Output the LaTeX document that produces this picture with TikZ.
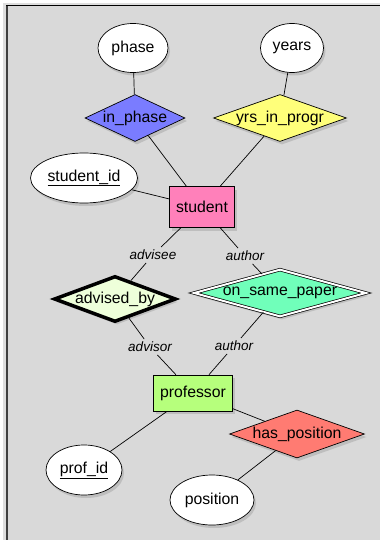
\documentclass[tikz,border=0pt]{standalone}
\usepackage{fontspec}
\setmainfont{Liberation Sans}
\usetikzlibrary{shapes.geometric,shadows}
\definecolor{panel}{HTML}{D9D9D9}
\definecolor{cblue}{HTML}{7A7CFF}
\definecolor{cyellow}{HTML}{FFFF7A}
\definecolor{cpink}{HTML}{FF80BA}
\definecolor{cpale}{HTML}{EEFFDA}
\definecolor{cmint}{HTML}{70FFBA}
\definecolor{clime}{HTML}{B6FF7C}
\definecolor{csalmon}{HTML}{FF7B72}
\tikzset{
  shade/.style={drop shadow={opacity=0.3,shadow xshift=2pt,shadow yshift=-3pt}},
  attr/.style={ellipse,draw=black,line width=0.7pt,fill=white,inner sep=0pt,
    font=\fontsize{15.8}{18}\selectfont,shade},
  entity/.style={rectangle,draw=black,line width=0.7pt,inner sep=0pt,
    font=\fontsize{15.8}{18}\selectfont,shade},
  rel/.style={diamond,draw=black,line width=0.7pt,inner sep=0pt,
    font=\fontsize{15.8}{18}\selectfont,shade},
  role/.style={font=\itshape\fontsize{13.5}{16}\selectfont,inner sep=3pt,outer sep=0pt},
  link/.style={draw=black,line width=0.7pt}
}
\begin{document}
\begin{tikzpicture}[x=1pt,y=-1pt]
  \useasboundingbox (0,0) rectangle (380,540);
  % window panel
  \fill[white] (0,0) rectangle (380,540);
  \fill[black!25,opacity=0.5] (3,3) rectangle (380,540);
  \fill[panel] (7,6) rectangle (380,540);
  \draw[black!75,line width=2pt] (7,5.5) -- (7,540);
  \draw[black,line width=1pt] (6,5.5) -- (380,5.5);

  % attributes
  \node[attr,minimum width=70pt,minimum height=49pt] (phase) at (133,48) {phase};
  \node[attr,minimum width=63pt,minimum height=49pt] (years) at (292,48) {years};
  \node[attr,minimum width=107pt,minimum height=50pt] (sid) at (84,178) {\underline{student\_id}};
  \node[attr,minimum width=76pt,minimum height=50pt] (pid) at (84,470) {\underline{prof\_id}};
  \node[attr,minimum width=84pt,minimum height=50pt] (pos) at (212,500) {position};

  % relationships
  \node[rel,fill=cblue,aspect=2.13,minimum width=100pt,minimum height=47pt] (inph) at (135,118) {in\_phase};
  \node[rel,fill=cyellow,aspect=2.83,minimum width=133pt,minimum height=47pt] (yrs) at (280,118) {yrs\_in\_progr};
  \node[rel,fill=cpale,line width=3.5pt,aspect=2.6,minimum width=122pt,minimum height=46pt] (adv) at (115,299) {advised\_by};
  \node[rel,fill=cmint,line width=0.7pt,double=white,double distance=2pt,aspect=3.5,minimum width=172pt,minimum height=47pt] (osp) at (280,293) {on\_same\_paper};
  \node[rel,fill=csalmon,aspect=2.8,minimum width=135pt,minimum height=48pt] (hpos) at (297,434) {has\_position};

  % entities
  \node[entity,fill=cpink,minimum width=65pt,minimum height=41pt] (stu) at (202,207) {student};
  \node[entity,fill=clime,minimum width=79pt,minimum height=36pt] (prof) at (193,393) {professor};

  % role labels
  \node[role] (r1) at (153,255) {advisee};
  \node[role] (r2) at (245,256) {author};
  \node[role] (r3) at (150,347) {advisor};
  \node[role] (r4) at (234,346) {author};

  % connectors
  \path[link] (phase) -- (inph);
  \path[link] (years) -- (yrs);
  \path[link] (inph) -- (stu);
  \path[link] (yrs) -- (stu);
  \path[link] (sid) -- (stu);
  \path[link] (stu) -- (r1);
  \path[link] (r1) -- (adv);
  \path[link] (stu) -- (r2);
  \path[link] (r2) -- (osp);
  \path[link] (adv) -- (r3);
  \path[link] (r3) -- (prof);
  \path[link] (osp) -- (r4);
  \path[link] (r4) -- (prof);
  \path[link] (prof) -- (hpos);
  \path[link] (prof) -- (pid);
  \path[link] (hpos) -- (pos);
\end{tikzpicture}
\end{document}
